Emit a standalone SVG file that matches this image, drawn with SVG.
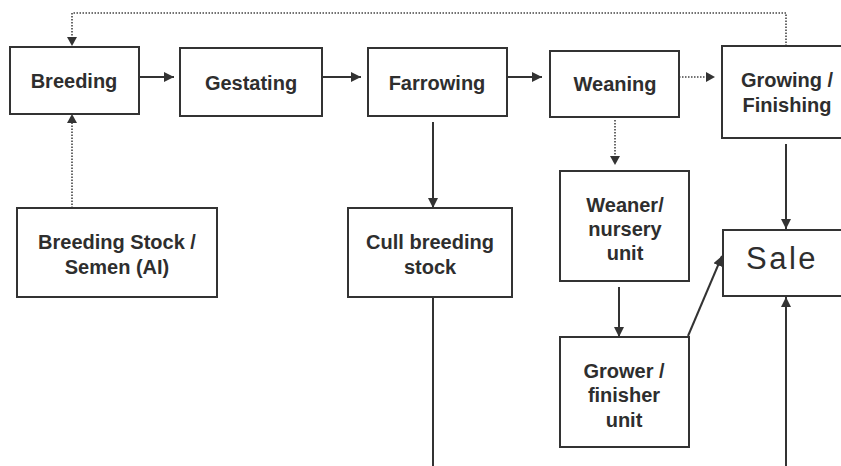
<svg xmlns="http://www.w3.org/2000/svg" width="841" height="466" viewBox="0 0 841 466">
<defs>
<style>
.box{fill:#fff;stroke:#333;stroke-width:2}
.t{font-family:"Liberation Sans",Arial,sans-serif;font-weight:bold;font-size:20px;fill:#2e2e2e;text-anchor:middle}
.big{font-family:"Liberation Sans",Arial,sans-serif;font-size:31px;fill:#2e2e2e;letter-spacing:2.5px}
.ln{fill:none;stroke:#333;stroke-width:2}
.dt{fill:none;stroke:#444;stroke-width:1.6;stroke-dasharray:1.5 1.5}
</style>
<marker id="ah" viewBox="0 0 10 10" refX="10" refY="5" markerWidth="10" markerHeight="10" markerUnits="userSpaceOnUse" orient="auto">
<path d="M0,0 L10,5 L0,10 z" fill="#333"/>
</marker>
</defs>
<rect width="841" height="466" fill="#fff"/>
<g id="connectors">
<polyline class="dt" points="786,46 786,13 72,13 72,37" />
<path d="M67,37 L77,37 L72,46 z" fill="#333"/>
<line class="dt" x1="72" y1="208" x2="72" y2="123"/>
<path d="M67,123 L77,123 L72,114 z" fill="#333"/>
<line class="ln" x1="139" y1="77" x2="174" y2="77" marker-end="url(#ah)"/>
<line class="ln" x1="322" y1="77" x2="361" y2="77" marker-end="url(#ah)"/>
<line class="ln" x1="507" y1="77" x2="542" y2="77" marker-end="url(#ah)"/>
<line class="dt" x1="679" y1="77" x2="706" y2="77"/>
<path d="M706,72 L715,77 L706,82 z" fill="#333"/>
<line class="ln" x1="433" y1="122" x2="433" y2="208" marker-end="url(#ah)"/>
<line class="ln" x1="433" y1="297" x2="433" y2="466"/>
<line class="dt" x1="615" y1="120" x2="615" y2="156"/>
<path d="M610,156 L620,156 L615,165 z" fill="#333"/>
<line class="ln" x1="786" y1="144" x2="786" y2="229" marker-end="url(#ah)"/>
<line class="ln" x1="786" y1="466" x2="786" y2="297" marker-end="url(#ah)"/>
<line class="ln" x1="619" y1="287" x2="619" y2="337" marker-end="url(#ah)"/>
<line class="ln" x1="688" y1="336" x2="722" y2="256" marker-end="url(#ah)"/>
</g>
<g id="breeding">
<rect class="box" x="10" y="47" width="129" height="67"/>
<text class="t" x="74" y="88">Breeding</text>
</g>
<g id="gestating">
<rect class="box" x="180" y="48" width="142" height="68"/>
<text class="t" x="251" y="90">Gestating</text>
</g>
<g id="farrowing">
<rect class="box" x="368" y="48" width="139" height="68"/>
<text class="t" x="437" y="90">Farrowing</text>
</g>
<g id="weaning">
<rect class="box" x="550" y="51" width="129" height="66"/>
<text class="t" x="615" y="91">Weaning</text>
</g>
<g id="growing">
<rect class="box" x="722" y="46" width="130" height="92"/>
<text class="t" x="787" y="87">Growing /</text>
<text class="t" x="787" y="112">Finishing</text>
</g>
<g id="breeding-stock">
<rect class="box" x="17" y="208" width="200" height="89"/>
<text class="t" x="117" y="249">Breeding Stock /</text>
<text class="t" x="117" y="274">Semen (AI)</text>
</g>
<g id="cull">
<rect class="box" x="348" y="208" width="164" height="89"/>
<text class="t" x="430" y="249">Cull breeding</text>
<text class="t" x="430" y="274">stock</text>
</g>
<g id="weaner">
<rect class="box" x="560" y="171" width="129" height="110"/>
<text class="t" x="625" y="212">Weaner/</text>
<text class="t" x="625" y="236">nursery</text>
<text class="t" x="625" y="260">unit</text>
</g>
<g id="grower">
<rect class="box" x="560" y="337" width="129" height="110"/>
<text class="t" x="624" y="378">Grower /</text>
<text class="t" x="624" y="402">finisher</text>
<text class="t" x="624" y="427">unit</text>
</g>
<g id="sale">
<rect class="box" x="723" y="230" width="130" height="66"/>
<text class="big" x="746" y="269">Sale</text>
</g>
</svg>
